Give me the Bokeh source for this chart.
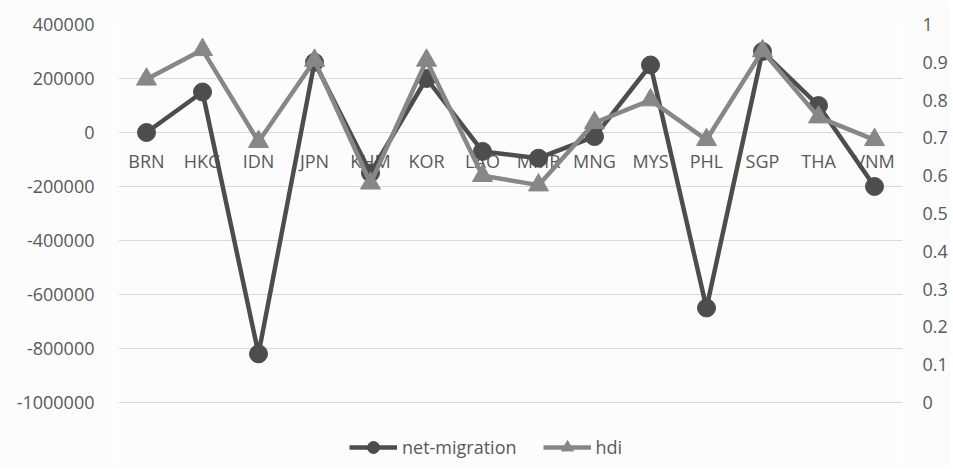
from bokeh.plotting import figure
from bokeh.models import (FactorRange, Range1d, LinearAxis, FixedTicker,
                          CustomJSTickFormatter, Legend, LegendItem, ColumnDataSource)
from bokeh.core.properties import value
from bokeh.embed import file_html
from bokeh.resources import INLINE

countries = ["BRN", "HKG", "IDN", "JPN", "KHM", "KOR", "LAO", "MMR", "MNG",
             "MYS", "PHL", "SGP", "THA", "VNM"]
net_migration = [0, 150000, -820000, 260000, -150000, 200000, -70000, -95000,
                 -15000, 250000, -650000, 300000, 100000, -200000]
hdi = [0.855, 0.933, 0.69, 0.905, 0.58, 0.905, 0.60, 0.575, 0.74, 0.80,
       0.695, 0.93, 0.755, 0.695]
left_ticks = [-1000000, -800000, -600000, -400000, -200000, 0, 200000, 400000]
right_ticks = [0, 0.1, 0.2, 0.3, 0.4, 0.5, 0.6, 0.7, 0.8, 0.9, 1.0]

FONT = "Open Sans"
TXT = "#595959"
DARK = "#4d4d4d"
LIGHT = "#878787"
BG = "#fcfcfc"

# layout: axes region 378 px tall, plus an extra strip below it for the legend
AX_H = 378
LEG_H = 62
L_MIN, L_MAX = left_ticks[0], left_ticks[-1]
R_MIN, R_MAX = right_ticks[0], right_ticks[-1]
l_start = L_MIN - (L_MAX - L_MIN) * LEG_H / AX_H
r_start = R_MIN - (R_MAX - R_MIN) * LEG_H / AX_H

src = ColumnDataSource(dict(x=countries, nm=net_migration, hdi=hdi,
                            zero=[0] * len(countries)))

p = figure(x_range=FactorRange(*countries), y_range=Range1d(l_start, L_MAX),
           frame_width=784, frame_height=AX_H + LEG_H, output_backend="svg",
           toolbar_location=None,
           min_border_left=118, min_border_right=40, min_border_top=24,
           min_border_bottom=2, background_fill_color=BG, border_fill_color=BG,
           outline_line_color=None)
p.extra_y_ranges = {"hdi": Range1d(r_start, R_MAX)}

p.xaxis.visible = False
p.xgrid.grid_line_color = None
p.ygrid.grid_line_color = "#d9d9d9"
p.ygrid.grid_line_width = 1
p.ygrid.ticker = FixedTicker(ticks=left_ticks)

ly = p.yaxis[0]
ly.ticker = FixedTicker(ticks=left_ticks)
ly.formatter = CustomJSTickFormatter(code="return Math.round(tick).toString();")
ly.axis_line_color = None
ly.major_tick_line_color = None
ly.minor_tick_line_color = None
ly.major_label_text_font = FONT
ly.major_label_text_font_size = "18px"
ly.major_label_text_color = TXT
ly.major_label_standoff = 18

ry = LinearAxis(y_range_name="hdi", ticker=FixedTicker(ticks=right_ticks),
                formatter=CustomJSTickFormatter(
                    code="return tick.toFixed(1).replace(/\\.0$/, '');"))
ry.axis_line_color = None
ry.major_tick_line_color = None
ry.minor_tick_line_color = None
ry.major_label_text_font = FONT
ry.major_label_text_font_size = "18px"
ry.major_label_text_color = TXT
ry.major_label_standoff = 14
p.add_layout(ry, "right")

# category labels at the zero line
p.text(x="x", y="zero", text="x", source=src, text_font=value(FONT),
       text_font_size="18px", text_color=TXT, text_align="center",
       text_baseline="middle", y_offset=28)

l1 = p.line(x="x", y="nm", source=src, line_color=DARK, line_width=4.5)
s1 = p.scatter(x="x", y="nm", source=src, marker="circle", size=18,
               fill_color=DARK, line_color=DARK)
l2 = p.line(x="x", y="hdi", source=src, y_range_name="hdi", line_color=LIGHT,
            line_width=4.5)
s2 = p.scatter(x="x", y="hdi", source=src, y_range_name="hdi", marker="triangle",
               size=20, fill_color=LIGHT, line_color=LIGHT)

legend = Legend(items=[LegendItem(label="net-migration", renderers=[l1, s1]),
                       LegendItem(label="hdi", renderers=[l2, s2])],
                location=(226, -3), orientation="horizontal",
                label_text_font=FONT, label_text_font_size="18px",
                label_text_color=TXT, glyph_width=48, glyph_height=30,
                label_standoff=5, spacing=26, padding=5, margin=0,
                border_line_alpha=0, background_fill_alpha=0)
p.add_layout(legend, "center")

open("out.html", "w").write(file_html(p, INLINE))
